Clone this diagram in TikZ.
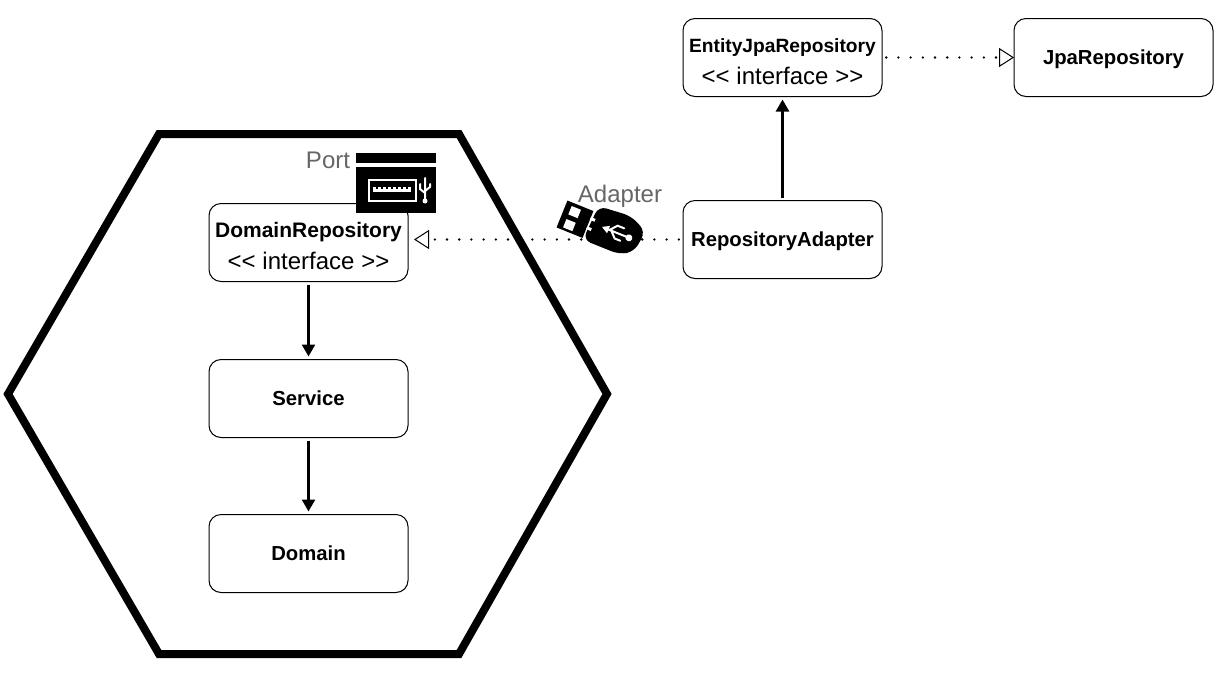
\documentclass[tikz,border=0pt]{standalone}
\usepackage{fontspec}
\setmainfont{Liberation Sans}
\usetikzlibrary{matrix,arrows.meta}
\newcommand{\ifacelabel}[2]{{\fontsize{#1}{32}\selectfont\bfseries\rule{0pt}{22pt}#2\\\fontsize{24}{32}\selectfont\mdseries <{}< interface >{}>}}
\newcommand{\boxlabel}[1]{\bfseries\rule[-6pt]{0pt}{25pt}#1}
\tikzset{
        boxnode/.style={draw,line width=1pt,rounded corners=12pt,text width=199pt,minimum height=78pt,
                inner sep=0pt,outer sep=0pt,anchor=center,align=center,font=\fontsize{20.3}{32}\selectfont},
        usesline/.style={line width=2.5pt,shorten <=3pt,shorten >=3pt,-{Triangle[length=12pt,width=13pt]}},
        implline/.style={line width=2.6pt,line cap=round,dash pattern=on 0pt off 12.2pt,dash phase=8pt,
                -{Triangle[open,fill=white,length=15pt,width=19pt,line width=1pt]}},
        graytext/.style={text=black!60,font=\fontsize{24}{28}\selectfont,inner sep=0pt}
}
\begin{document}
\begin{tikzpicture}[x=1pt,y=-1pt]
        \useasboundingbox (0,0) rectangle (1222,677);

        %Hexagon
        \draw[line width=8pt,miter limit=4] (159,134) -- (459,134) -- (607,394) -- (459,654) -- (159,654) -- (8,394) -- cycle;

        \matrix (m) [matrix of nodes,anchor=north west,inner sep=0pt,outer sep=0pt,nodes={boxnode}] at (208.5,18)
        {
                                           &[274pt] \ifacelabel{19.2}{EntityJpaRepository}      &[131pt] \boxlabel{JpaRepository} \\[103pt]
         \ifacelabel{21}{DomainRepository} &        |[yshift=3pt]| \boxlabel{RepositoryAdapter} &                                  \\[77pt]
         \boxlabel{Service}                &                                                    &                                  \\[76pt]
         \boxlabel{Domain}                 &                                                    &                                  \\
        };

        \draw[usesline] (m-2-1) -- (m-3-1);
        \draw[usesline] (m-3-1) -- (m-4-1);
        \draw[usesline] (m-2-2) -- (m-1-2);
        \draw[implline] (m-1-2) -- (m-1-3);
        \draw[implline,shorten >=6pt] (m-2-2.west) -- (m-2-1.east |- m-2-2.west);

        \node[graytext] (portlabel) at (328,160) {Port};
        \node[graytext] (adapterlabel) at (620,196.5) {Adapter};

        %Port icon
        \fill (356,153) rectangle (436,163);
        \fill (356,167) rectangle (436,213);
        \draw[white,line width=2.5pt] (369,180) rectangle (416,201);
        \fill[white] (373,187) rectangle (411,192);
        \foreach \tooth in {376,381,...,406}
                \fill (\tooth,187) rectangle +(2,1.5);
        \draw[white,line width=2pt,line cap=round] (425,178) -- (425,201) (420,184) -- (420,189) -- (425,193) (430,184) -- (430,187) -- (425,191);
        \fill[white] (425,201) circle (2.5pt);

        %Adapter icon
        \begin{scope}[shift={(562,214)},rotate=-22]
                \fill (0,-14.5) rectangle (28,14.5);
                \fill[white] (6,-11) rectangle (16,-2);
                \fill[white] (6,3) rectangle (16,12);
                \fill[rounded corners=8pt] (31,-21) -- (65,-24) -- (84,-15) -- (81,8) -- (68,16) -- (29,16) -- cycle;
                \fill[white] (28,-8) rectangle (33,-5);
                \fill[white] (28,2) rectangle (33,5);
                \draw[white,line width=2pt,line cap=round] (44,-3) -- (70,-3) (50,-3) -- (56,-10) -- (63,-10) (52,-3) -- (58,3) -- (64,3);
                \fill[white] (42,-3) -- (49,-7) -- (49,1) -- cycle;
                \fill[white] (71,-3) circle (3.5pt);
        \end{scope}
\end{tikzpicture}
\end{document}
